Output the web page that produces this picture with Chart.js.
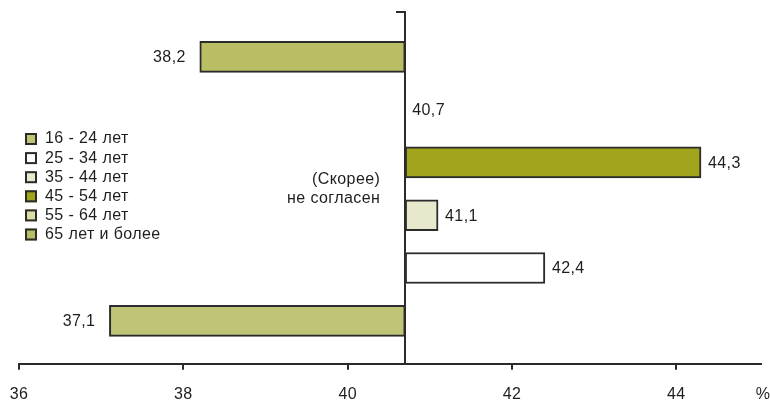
<!DOCTYPE html>
<html>
<head>
<meta charset="utf-8">
<script src="https://cdn.jsdelivr.net/npm/chart.js@4/dist/chart.umd.min.js"></script>
<style>
  html, body { margin: 0; padding: 0; background: #ffffff; }
  #wrap { position: relative; width: 770px; height: 404px; }
</style>
</head>
<body>
<div id="wrap"><canvas id="chart" width="770" height="404"></canvas></div>
<script>
// Age groups, listed from the bottom bar upwards
const AGE_GROUPS = ['16 - 24 лет', '25 - 34 лет', '35 - 44 лет', '45 - 54 лет', '55 - 64 лет', '65 лет и более'];
// Share answering "(Скорее) не согласен", %
const SHARES = [37.1, 42.4, 41.1, 44.3, 40.7, 38.2];
// Bars grow from the overall average
const BASE = 40.7;
const X_TICKS = [36, 38, 40, 42, 44];
const GROUP_COLORS = ['#c0c476', '#ffffff', '#e8e8cc', '#a0a51c', '#dcdca4', '#b9bd63'];
const SIDE_LABEL = ['(Скорее)', 'не согласен'];
const UNIT = '%';

const FONT = '"Liberation Sans", Arial, sans-serif';
const FONT_SIZE = 16;
const TEXT = '#1e1e1e';
const LINE = '#2b2b2b';

const fmt = v => v.toFixed(1).replace('.', ',');

const letterSpacing = {
  id: 'letterSpacing',
  beforeDraw(chart) { chart.ctx.letterSpacing = '0.4px'; }
};

const valueLabels = {
  id: 'valueLabels',
  afterDatasetsDraw(chart) {
    const ctx = chart.ctx;
    const xs = chart.scales.x;
    const meta = chart.getDatasetMeta(0);
    ctx.save();
    ctx.font = FONT_SIZE + 'px ' + FONT;
    ctx.fillStyle = TEXT;
    ctx.textBaseline = 'middle';
    meta.data.forEach((bar, i) => {
      const v = SHARES[i];
      const px = xs.getPixelForValue(v);
      if (v < BASE) {
        ctx.textAlign = 'right';
        ctx.fillText(fmt(v), px - 14, bar.y + 1);
      } else {
        ctx.textAlign = 'left';
        ctx.fillText(fmt(v), px + 7, bar.y + 1);
      }
    });
    ctx.restore();
  }
};

const extras = {
  id: 'extras',
  afterDraw(chart) {
    const ctx = chart.ctx;
    const xs = chart.scales.x;
    const ys = chart.scales.y;
    ctx.save();
    ctx.font = FONT_SIZE + 'px ' + FONT;
    ctx.fillStyle = TEXT;
    ctx.textBaseline = 'middle';

    // unit past the right end of the value axis
    ctx.textAlign = 'center';
    ctx.fillText(UNIT, xs.right + 2, xs.top + 31);

    // side caption next to the base line
    ctx.textAlign = 'right';
    const cx = xs.getPixelForValue(BASE) - 25;
    const cy = ys.getPixelForValue(2.5);
    ctx.fillText(SIDE_LABEL[0], cx, cy - 9.5);
    ctx.fillText(SIDE_LABEL[1], cx, cy + 9.5);

    // legend, youngest group first
    AGE_GROUPS.forEach((name, i) => {
      const y = 139 + i * 19.1;
      ctx.fillStyle = GROUP_COLORS[i];
      ctx.fillRect(25, y - 6, 12, 12);
      ctx.strokeStyle = LINE;
      ctx.lineWidth = 2;
      ctx.strokeRect(26, y - 5, 10, 10);
      ctx.fillStyle = TEXT;
      ctx.textAlign = 'left';
      ctx.fillText(name, 45, y);
    });
    ctx.restore();
  }
};

new Chart(document.getElementById('chart'), {
  type: 'bar',
  data: {
    datasets: [{
      data: SHARES.map((v, i) => ({ y: i, x: [BASE, v] })),
      backgroundColor: GROUP_COLORS,
      borderColor: LINE,
      borderWidth: 2,
      borderSkipped: false,
      barThickness: 31
    }]
  },
  options: {
    indexAxis: 'y',
    responsive: false,
    animation: false,
    devicePixelRatio: 1,
    layout: { padding: { left: 19, right: 9, top: 12, bottom: -15 } },
    plugins: { legend: { display: false }, tooltip: { enabled: false } },
    scales: {
      x: {
        type: 'linear',
        min: 36,
        max: 45.03,
        afterBuildTicks: s => { s.ticks = X_TICKS.map(v => ({ value: v })); },
        // the outer labels fit inside the layout padding
        afterFit: s => { s.paddingLeft = 0; s.paddingRight = 0; },
        ticks: {
          color: TEXT,
          font: { family: FONT, size: FONT_SIZE },
          padding: 15,
          maxRotation: 0,
          callback: v => String(v)
        },
        grid: { drawOnChartArea: false, drawTicks: true, tickLength: 6, color: LINE, lineWidth: 2 },
        border: { display: true, color: LINE, width: 2 }
      },
      y: {
        type: 'linear',
        offset: false,
        position: { x: BASE },
        min: -0.814,
        max: 5.85,
        afterBuildTicks: s => { s.ticks = [{ value: s.max }]; },
        ticks: { display: false },
        grid: { offset: false, drawOnChartArea: false, drawTicks: true, tickLength: 8, color: LINE, lineWidth: 2 },
        border: { display: true, color: LINE, width: 2 }
      }
    }
  },
  plugins: [letterSpacing, valueLabels, extras]
});
</script>
</body>
</html>
